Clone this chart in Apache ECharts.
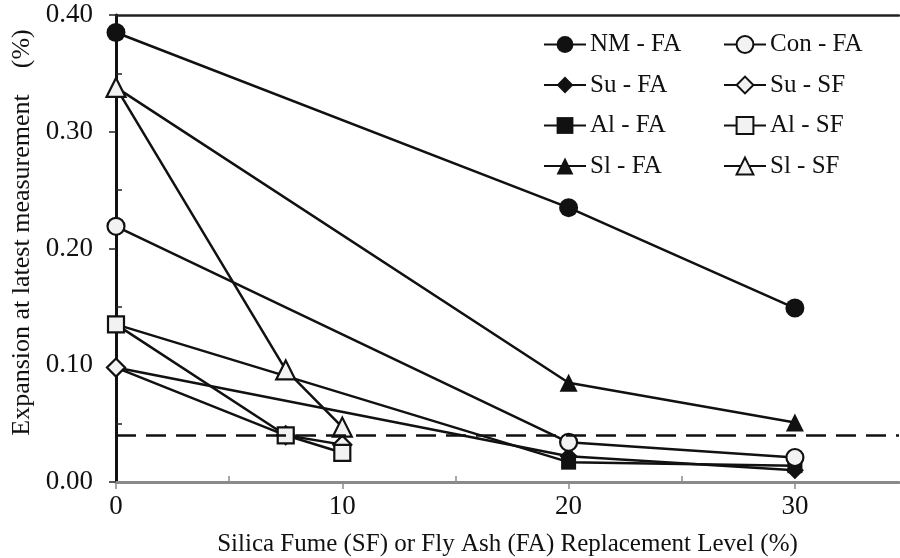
<!DOCTYPE html>
<html><head><meta charset="utf-8">
<script src="https://cdn.jsdelivr.net/npm/echarts@6/dist/echarts.min.js"></script>
<style>html,body{margin:0;padding:0;background:#fff}#c{width:900px;height:558px}</style>
</head><body><div id="c"></div>
<script>
const xFA = [0, 20, 30];
const xSF = [0, 7.5, 10];
const nmFA = [0.385, 0.235, 0.149];
const conFA = [0.219, 0.034, 0.021];
const suFA = [0.098, 0.022, 0.010];
const suSF = [0.098, 0.040, 0.032];
const alFA = [0.135, 0.017, 0.014];
const alSF = [0.135, 0.040, 0.025];
const slFA = [0.338, 0.085, 0.051];
const slSF = [0.338, 0.096, 0.047];
const limit = 0.04;
const xTickLabels = [0, 10, 20, 30];
const yTickLabels = [0, 0.1, 0.2, 0.3, 0.4];

const FONT = 'Liberation Serif';
const OPEN = '#f2f2f2';
function pts(xs, ys){ return xs.map((x,i)=>[x, ys[i]]); }
function ser(name, xs, ys, symbol, size, filled, extra){
  const s = {
    name, type:'line', data: pts(xs, ys), symbol, symbolSize: size,
    showSymbol:true, animation:false,
    lineStyle:{color:'#111', width:2.5},
    itemStyle:{color: filled ? '#111' : OPEN, borderColor:'#111', borderWidth: filled?0:2.2},
    emphasis:{disabled:true}, z: 3
  };
  return Object.assign(s, extra||{});
}
const series = [
  ser('Su - FA', xFA, suFA, 'diamond', 18, true),
  ser('Al - FA', xFA, alFA, 'rect', 15, true),
  ser('Sl - FA', xFA, slFA, 'triangle', 18, true),
  ser('NM - FA', xFA, nmFA, 'circle', 19, true, {
    markLine:{silent:true, symbol:'none', animation:false, label:{show:false},
      lineStyle:{color:'#111', width:2.5, type:[20,10]},
      data:[{yAxis: limit}]}
  }),
  ser('Con - FA', xFA, conFA, 'circle', 17, false),
  ser('Su - SF', xSF, suSF, 'diamond', 18, false),
  ser('Al - SF', xSF, alSF, 'rect', 16, false),
  ser('Sl - SF', xSF, slSF, 'triangle', 19, false)
];
const legendCommon = {
  orient:'vertical', itemWidth:42, itemHeight:21, itemGap:15.5,
  textStyle:{fontFamily:FONT, fontSize:25, color:'#111', padding:[0,0,0,-1]},
  selectedMode:false, padding:0
};
const chart = echarts.init(document.getElementById('c'), null, {renderer:'canvas'});
chart.setOption({
  animation:false,
  backgroundColor:'#fff',
  grid:{left:116, top:15, right:1, bottom:76, containLabel:false, outerBoundsMode:'none'},
  legend:[
    Object.assign({left:543, top:32, data:['NM - FA','Su - FA','Al - FA','Sl - FA']}, legendCommon),
    Object.assign({left:723, top:32, data:['Con - FA','Su - SF','Al - SF','Sl - SF']}, legendCommon)
  ],
  xAxis:[
    {type:'value', min:0, max:34.6, interval:10, position:'bottom',
     name:'Silica Fume (SF) or Fly Ash (FA) Replacement Level (%)', nameLocation:'middle', nameGap:50,
     nameTextStyle:{fontFamily:FONT, fontSize:25, color:'#111'},
     axisLine:{show:true, lineStyle:{color:'#8a8a8a', width:3}},
     axisTick:{show:true, inside:false, length:7, lineStyle:{color:'#8a8a8a', width:1.5}},
     axisLabel:{fontFamily:FONT, fontSize:27, color:'#111', margin:11, showMaxLabel:false,
       formatter:v=> xTickLabels.indexOf(v)>=0 ? String(v) : ''},
     splitLine:{show:false}},
    {type:'value', min:0, max:34.6, position:'bottom', gridIndex:0,
     axisLine:{show:false}, axisLabel:{show:false}, splitLine:{show:false},
     axisTick:{show:true, inside:true, length:6, customValues:[5,15,25], lineStyle:{color:'#8a8a8a', width:1.5}}},
    {type:'value', min:0, max:34.6, position:'top', gridIndex:0,
     axisLine:{show:true, lineStyle:{color:'#222', width:2.5}}, axisLabel:{show:false},
     axisTick:{show:false}, splitLine:{show:false}}
  ],
  yAxis:[
    {type:'value', min:0, max:0.4, interval:0.1,
     name:'Expansion at latest measurement    (%)', nameLocation:'middle', nameGap:78, nameRotate:90,
     nameTextStyle:{fontFamily:FONT, fontSize:26, color:'#111', padding:[0,0,0,32]},
     axisLine:{show:true, lineStyle:{color:'#111', width:3}},
     axisTick:{show:true, inside:false, length:7, lineStyle:{color:'#222', width:1.5}},
     axisLabel:{fontFamily:FONT, fontSize:27, color:'#111', margin:23,
       formatter:v=> yTickLabels.some(t=>Math.abs(t-v)<1e-9) ? v.toFixed(2) : ''},
     splitLine:{show:false}},
    {type:'value', min:0, max:0.4, position:'left',
     axisLine:{show:false}, axisLabel:{show:false}, splitLine:{show:false},
     axisTick:{show:true, inside:true, length:6, customValues:[0.05,0.15,0.25,0.35], lineStyle:{color:'#222', width:1.5}}}
  ],
  series
});
</script></body></html>
